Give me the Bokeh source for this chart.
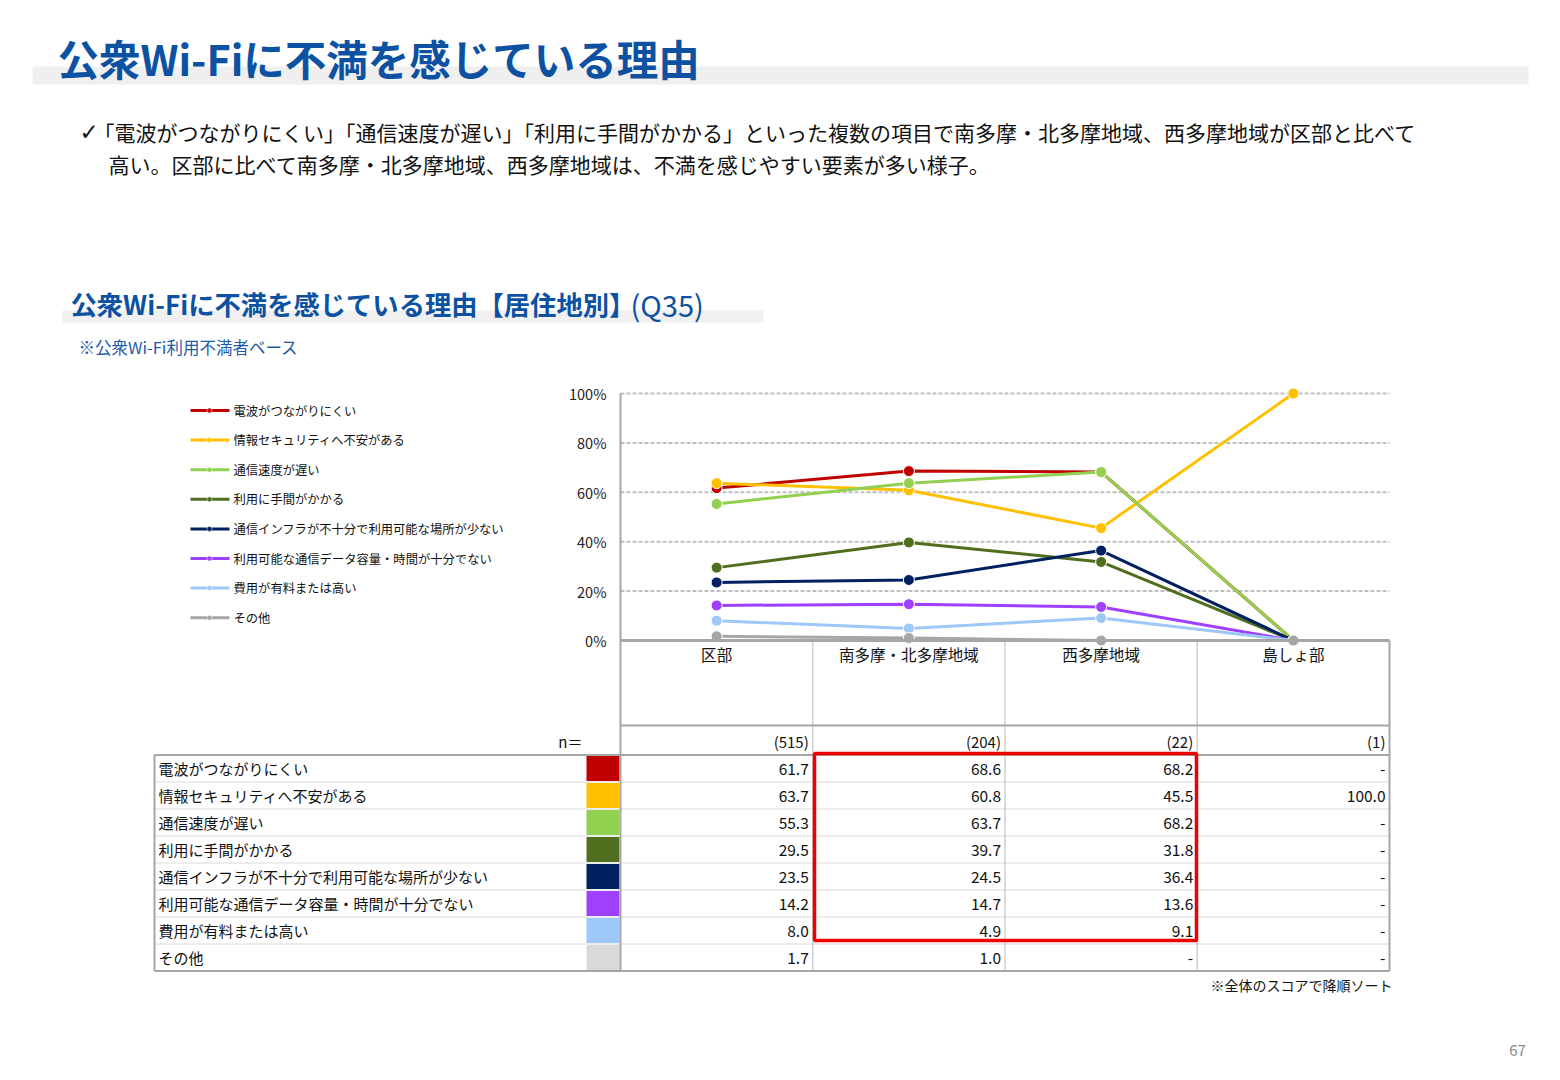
from bokeh.plotting import figure
from bokeh.models import Range1d
from bokeh.core.properties import value
from bokeh.embed import file_html
from bokeh.resources import INLINE

# ---------------- data ----------------
regions = ["区部", "南多摩・北多摩地域", "西多摩地域", "島しょ部"]
n_counts = [515, 204, 22, 1]
reasons = [
    "電波がつながりにくい",
    "情報セキュリティへ不安がある",
    "通信速度が遅い",
    "利用に手間がかかる",
    "通信インフラが不十分で利用可能な場所が少ない",
    "利用可能な通信データ容量・時間が十分でない",
    "費用が有料または高い",
    "その他",
]
# None means "-" (shown as 0 in the chart)
s_denpa = [61.7, 68.6, 68.2, None]
s_security = [63.7, 60.8, 45.5, 100.0]
s_speed = [55.3, 63.7, 68.2, None]
s_tema = [29.5, 39.7, 31.8, None]
s_infra = [23.5, 24.5, 36.4, None]
s_data = [14.2, 14.7, 13.6, None]
s_fee = [8.0, 4.9, 9.1, None]
s_other = [1.7, 1.0, None, None]
series = [s_denpa, s_security, s_speed, s_tema, s_infra, s_data, s_fee, s_other]

line_colors = ["#c00000", "#ffc000", "#92d050", "#4f6f1f", "#002060", "#a040ff", "#9dc8f8", "#a6a6a6"]
swatch_colors = ["#c00000", "#ffc000", "#92d050", "#4f6f1f", "#002060", "#a040ff", "#9dc8f8", "#d9d9d9"]
y_ticks = [0, 20, 40, 60, 80, 100]

title = "公衆Wi-Fiに不満を感じている理由"
bullet_1 = "「電波がつながりにくい」「通信速度が遅い」「利用に手間がかかる」といった複数の項目で南多摩・北多摩地域、西多摩地域が区部と比べて"
bullet_2 = "高い。区部に比べて南多摩・北多摩地域、西多摩地域は、不満を感じやすい要素が多い様子。"
sub_title = "公衆Wi-Fiに不満を感じている理由【居住地別】"
sub_q = "(Q35)"
base_note = "※公衆Wi-Fi利用不満者ベース"
sort_note = "※全体のスコアで降順ソート"
page_no = "67"

# ---------------- layout ----------------
W, H = 1544, 1064
ORG = 0   # image pixel at the frame's top-left
JP = value("Noto Sans CJK JP")
BLUE = "#0d52a2"
TXT = "#111111"
GRID = "#a6a6a6"

# chart geometry (image pixels)
X0, X1 = 620.0, 1389.0          # plot area left/right
Y0, Y100 = 640.0, 393.0          # 0% and 100%
col_w = (X1 - X0) / len(regions)
py_per = (Y0 - Y100) / 100.0

p = figure(width=W, height=H, output_backend="svg", toolbar_location=None,
           x_range=Range1d(ORG, ORG + W), y_range=Range1d(ORG + H, ORG),
           x_axis_location=None, y_axis_location=None,
           min_border=0, outline_line_color=None, background_fill_color="white")
p.grid.visible = False
p.extra_x_ranges = {"cat": Range1d((ORG - X0) / col_w, (ORG + W - X0) / col_w)}
p.extra_y_ranges = {"pct": Range1d((Y0 - (ORG + H)) / py_per, (Y0 - ORG) / py_per)}

# ---------------- headings ----------------
p.quad(left=[32], right=[1528], top=[66], bottom=[84], fill_color="#efefef", line_color=None)
p.text(x=[57], y=[57], text=[title], text_font=JP, text_font_size="41.5px",
       text_font_style="bold", text_color=BLUE, text_baseline="middle")

p.text(x=[79], y=[131], text=["✓"], text_font=value("DejaVu Sans"), text_font_size="23px",
       text_font_style="bold", text_color=TXT, text_baseline="middle")
p.text(x=[93, 108], y=[131, 163], text=[bullet_1, bullet_2], text_font=JP, text_font_size="21px",
       text_color=TXT, text_baseline="middle")

p.quad(left=[62], right=[763], top=[310], bottom=[322], fill_color="#f0f0f0", line_color=None)
p.text(x=[70], y=[303], text=[sub_title], text_font=JP, text_font_size="26.3px",
       text_font_style="bold", text_color=BLUE, text_baseline="middle")
p.text(x=[630], y=[303], text=[sub_q], text_font=JP, text_font_size="29px",
       text_color=BLUE, text_baseline="middle")
p.text(x=[78], y=[346], text=[base_note], text_font=JP, text_font_size="16.5px",
       text_color="#1f5aa6", text_baseline="middle")

# ---------------- legend ----------------
leg_y = [410 + i * 29.6 for i in range(len(reasons))]
p.segment(x0=[190] * len(reasons), x1=[229] * len(reasons), y0=leg_y, y1=leg_y,
          line_color=line_colors, line_width=3)
p.scatter(x=[209] * len(reasons), y=leg_y, size=5, fill_color=line_colors,
          line_color="white", line_width=0.5)
p.text(x=[233] * len(reasons), y=leg_y, text=reasons, text_font=JP, text_font_size="12.3px",
       text_color=TXT, text_baseline="middle")

# ---------------- chart ----------------
cx = [i + 0.5 for i in range(len(regions))]
grid_t = y_ticks[1:]
p.segment(x0=[0] * len(grid_t), x1=[len(regions)] * len(grid_t), y0=grid_t, y1=grid_t,
          x_range_name="cat", y_range_name="pct", line_color="#bfbfbf", line_width=2,
          line_dash="4 2")
p.text(x=[606] * len(y_ticks), y=y_ticks, text=[f"{t}%" for t in y_ticks],
       y_range_name="pct", text_font=JP, text_font_size="14.5px", text_color="#222222",
       text_align="right", text_baseline="middle")

for vals, col in zip(series, line_colors):
    yv = [v if v is not None else 0.0 for v in vals]
    p.line(cx, yv, x_range_name="cat", y_range_name="pct", line_color=col, line_width=3)
    p.scatter(cx, yv, x_range_name="cat", y_range_name="pct", size=11, fill_color=col,
              line_color="white", line_width=1)

# zero axis line
p.segment(x0=[0], x1=[len(regions)], y0=[0], y1=[0], x_range_name="cat", y_range_name="pct",
          line_color=GRID, line_width=3)

p.text(x=cx, y=[653] * len(regions), text=regions, x_range_name="cat", text_font=JP,
       text_font_size="15.5px", text_color=TXT, text_align="center", text_baseline="middle")

# ---------------- table ----------------
tbl_top, row_h = 754.5, 27.0
tbl_bot = tbl_top + row_h * len(reasons)
tbl_left = 154
n_row_y = 741
rows_c = [tbl_top + (i + 0.5) * row_h for i in range(len(reasons))]

# swatches
p.quad(left=[586] * len(reasons), right=[619] * len(reasons),
       top=[tbl_top + i * row_h + 1 for i in range(len(reasons))],
       bottom=[tbl_top + (i + 1) * row_h - 1 for i in range(len(reasons))],
       fill_color=swatch_colors, line_color=None)

# inner dotted row separators
seps = [tbl_top + i * row_h for i in range(1, len(reasons))]
p.segment(x0=[tbl_left] * len(seps), x1=[X1] * len(seps), y0=seps, y1=seps,
          line_color="#b5b5b5", line_width=1, line_dash="1 1")
# dotted column separators
inner_cols = list(range(1, len(regions)))
p.segment(x0=inner_cols, x1=inner_cols, y0=[Y0] * len(inner_cols), y1=[tbl_bot] * len(inner_cols),
          x_range_name="cat", line_color="#a0a0a0", line_width=1.5, line_dash="1 1")
# solid lines
p.segment(x0=[X0, X1, tbl_left], x1=[X0, X1, tbl_left], y0=[Y100, Y0, tbl_top], y1=[tbl_bot, tbl_bot, tbl_bot],
          line_color=GRID, line_width=2)
p.segment(x0=[X0, tbl_left, tbl_left], x1=[X1, X1, X1], y0=[725, tbl_top, tbl_bot], y1=[725, tbl_top, tbl_bot],
          line_color=GRID, line_width=2)

# n row
p.text(x=[582], y=[n_row_y], text=["n＝"], text_font=JP, text_font_size="15px", text_color=TXT,
       text_align="right", text_baseline="middle")
p.text(x=[i + 1 for i in range(len(regions))], y=[n_row_y] * len(regions),
       text=[f"({n})" for n in n_counts], x_range_name="cat", x_offset=-4, text_font=JP,
       text_font_size="15px", text_color=TXT, text_align="right", text_baseline="middle")

# row labels
p.text(x=[158] * len(reasons), y=rows_c, text=reasons, text_font=JP, text_font_size="15px",
       text_color=TXT, text_baseline="middle")

# values
vx, vy, vt = [], [], []
for r, vals in enumerate(series):
    for c, v in enumerate(vals):
        vx.append(c + 1)
        vy.append(rows_c[r])
        vt.append("-" if v is None else f"{v:.1f}")
p.text(x=vx, y=vy, text=vt, x_range_name="cat", x_offset=-4, text_font=JP, text_font_size="15.5px",
       text_color=TXT, text_align="right", text_baseline="middle")

# highlight box
p.quad(left=[814], right=[1196], top=[753], bottom=[940], fill_color=None,
       line_color="#ee0000", line_width=3.5)

# notes
p.text(x=[1392], y=[984], text=[sort_note], text_font=JP, text_font_size="14px", text_color=TXT,
       text_align="right", text_baseline="middle")
p.text(x=[1517], y=[1050], text=[page_no], text_font=JP, text_font_size="15px", text_color="#8c8c8c",
       text_align="center", text_baseline="middle")

open("out.html", "w").write(file_html(p, INLINE))
